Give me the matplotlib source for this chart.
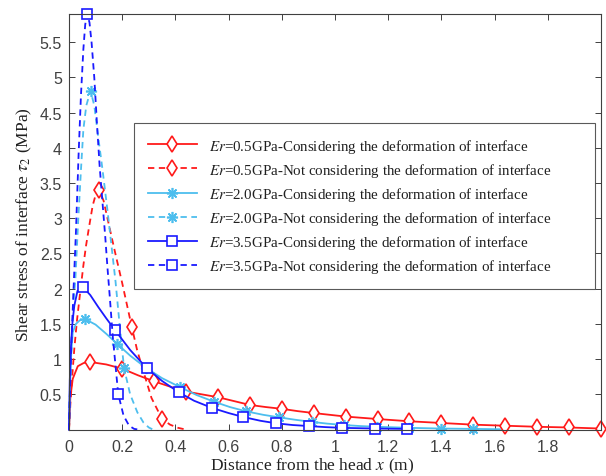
import matplotlib
matplotlib.use("Agg")
import matplotlib.pyplot as plt

plt.rcParams["mathtext.fontset"] = "stix"

# Er = 0.5 GPa, interface deformation considered
r_con_x = [0, 0.005, 0.014, 0.033, 0.055, 0.079, 0.14, 0.2, 0.26, 0.32, 0.38, 0.44, 0.5, 0.56,
           0.62, 0.68, 0.74, 0.80, 0.86, 0.92, 1.04, 1.16, 1.28, 1.40, 1.52, 1.64, 1.76, 1.88, 2.0]
r_con_y = [0, 0.45, 0.72, 0.90, 0.945, 0.96, 0.925, 0.865, 0.77, 0.685, 0.61, 0.54, 0.50, 0.46,
           0.405, 0.35, 0.32, 0.295, 0.262, 0.235, 0.185, 0.15, 0.118, 0.094, 0.07, 0.055, 0.04, 0.03, 0.015]

# Er = 0.5 GPa, interface deformation not considered
r_not_x = [0, 0.005, 0.01, 0.02, 0.03, 0.039, 0.045, 0.054, 0.064, 0.076, 0.089, 0.1, 0.113,
           0.13, 0.151, 0.176, 0.2, 0.222, 0.236, 0.256, 0.277, 0.31, 0.35, 0.38, 0.41, 0.44]
r_not_y = [0, 0.35, 0.65, 1.15, 1.55, 1.85, 2.04, 2.33, 2.61, 2.89, 3.18, 3.33, 3.40,
           3.25, 2.89, 2.47, 2.08, 1.7, 1.46, 1.13, 0.86, 0.45, 0.15, 0.07, 0.025, 0]

# Er = 2.0 GPa, interface deformation considered
c_con_x = [0, 0.004, 0.008, 0.014, 0.026, 0.04, 0.06, 0.1, 0.14, 0.182, 0.23, 0.288, 0.35, 0.419,
           0.48, 0.546, 0.605, 0.665, 0.73, 0.788, 0.85, 0.912, 0.97, 1.034, 1.096, 1.158, 1.28,
           1.398, 1.52, 1.62]
c_con_y = [0, 0.6, 1.05, 1.38, 1.5, 1.55, 1.57, 1.49, 1.36, 1.214, 1.05, 0.88, 0.73, 0.60,
           0.49, 0.395, 0.32, 0.26, 0.21, 0.175, 0.14, 0.11, 0.085, 0.065, 0.05, 0.04, 0.025,
           0.015, 0.01, 0.005]

# Er = 2.0 GPa, interface deformation not considered
c_not_x = [0, 0.004, 0.01, 0.016, 0.024, 0.035, 0.045, 0.054, 0.065, 0.081, 0.095, 0.11, 0.126,
           0.145, 0.163, 0.175, 0.19, 0.207, 0.23, 0.257, 0.28, 0.30, 0.316]
c_not_y = [0, 0.7, 1.3, 1.75, 2.14, 3.0, 3.69, 4.26, 4.6, 4.81, 4.6, 4.15, 3.69,
           3.1, 2.5, 2.1, 1.5, 0.87, 0.5, 0.245, 0.1, 0.03, 0]

# Er = 3.5 GPa, interface deformation considered
b_con_x = [0, 0.003, 0.0075, 0.013, 0.02, 0.032, 0.051, 0.08, 0.11, 0.14, 0.172, 0.23, 0.292,
           0.35, 0.413, 0.47, 0.536, 0.6, 0.656, 0.72, 0.778, 0.84, 0.903, 0.965, 1.027, 1.15,
           1.27, 1.29]
b_con_y = [0, 0.7, 1.19, 1.52, 1.76, 1.97, 2.03, 1.91, 1.74, 1.58, 1.417, 1.13, 0.874,
           0.69, 0.529, 0.41, 0.31, 0.235, 0.178, 0.125, 0.09, 0.065, 0.05, 0.035, 0.025, 0.015,
           0.01, 0.01]

# Er = 3.5 GPa, interface deformation not considered
b_not_x = [0, 0.004, 0.008, 0.016, 0.026, 0.036, 0.045, 0.054, 0.061, 0.068, 0.077, 0.085,
           0.095, 0.105, 0.115, 0.126, 0.136, 0.145, 0.153, 0.165, 0.185, 0.205, 0.226, 0.245, 0.262]
b_not_y = [0, 0.6, 1.1, 1.9, 2.8, 3.9, 4.75, 5.4, 5.75, 5.9, 5.78, 5.49,
           5.0, 4.35, 3.75, 3.22, 2.75, 2.28, 1.9, 1.3, 0.505, 0.2, 0.055, 0.01, 0]

labels = [
    r"$\mathit{Er}$=0.5GPa-Considering the deformation of interface",
    r"$\mathit{Er}$=0.5GPa-Not considering the deformation of interface",
    r"$\mathit{Er}$=2.0GPa-Considering the deformation of interface",
    r"$\mathit{Er}$=2.0GPa-Not considering the deformation of interface",
    r"$\mathit{Er}$=3.5GPa-Considering the deformation of interface",
    r"$\mathit{Er}$=3.5GPa-Not considering the deformation of interface",
]

x_ticks = [0, 0.2, 0.4, 0.6, 0.8, 1.0, 1.2, 1.4, 1.6, 1.8]
x_tick_labels = ["0", "0.2", "0.4", "0.6", "0.8", "1", "1.2", "1.4", "1.6", "1.8"]
y_ticks = [0.5, 1.0, 1.5, 2.0, 2.5, 3.0, 3.5, 4.0, 4.5, 5.0, 5.5]
y_tick_labels = ["0.5", "1", "1.5", "2", "2.5", "3", "3.5", "4", "4.5", "5", "5.5"]

RED = "#ff1a1a"
CYAN = "#4dbeee"
BLUE = "#1a1aff"
DASH = (0, (3.5, 2.5))
ASTERISK = (8, 2, 0)

fig = plt.figure(figsize=(6.06, 4.77), dpi=100)
ax = fig.add_axes([69 / 606, 1 - 430.6 / 477, 532 / 606, 415.6 / 477])

series = [
    (r_con_x, r_con_y, dict(color=RED, ls="-", marker="d", ms=8.5,
                            markevery=[5, 7, 9, 11, 13, 15, 17, 19] + list(range(20, 29)))),
    (r_not_x, r_not_y, dict(color=RED, ls=DASH, marker="d", ms=8.5, markevery=[12, 18, 22])),
    (c_con_x, c_con_y, dict(color=CYAN, ls="-", marker=ASTERISK, ms=8,
                            markevery=[6, 9, 11, 13, 15, 17, 19, 21, 23, 25, 26, 27, 28])),
    (c_not_x, c_not_y, dict(color=CYAN, ls=DASH, marker=ASTERISK, ms=8, markevery=[9, 17])),
    (b_con_x, b_con_y, dict(color=BLUE, ls="-", marker="s", ms=7,
                            markevery=[6, 10, 12, 14, 16, 18, 20, 22, 24, 25, 26])),
    (b_not_x, b_not_y, dict(color=BLUE, ls=DASH, marker="s", ms=7, markevery=[9, 20])),
]

for (xs, ys, st), lab in zip(series, labels):
    face = "white" if st["marker"] in ("d", "s") else st["color"]
    ax.plot(xs, ys, label=lab, lw=1.3, mew=1.2, mfc=face, mec=st["color"],
            clip_on=False, color=st["color"], ls=st["ls"], marker=st["marker"],
            ms=st["ms"], markevery=st["markevery"])

ax.set_xlim(0, 2.0)
ax.set_ylim(0, 5.9)
ax.set_xticks(x_ticks)
ax.set_xticklabels(x_tick_labels)
ax.set_yticks(y_ticks)
ax.set_yticklabels(y_tick_labels)

for lbl in ax.get_xticklabels() + ax.get_yticklabels():
    lbl.set_fontfamily("Liberation Sans")
    lbl.set_fontsize(11.5)
    lbl.set_color("#404040")

ax.tick_params(direction="in", length=4, width=0.7, color="#404040",
               top=True, right=True)
ax.tick_params(axis="x", pad=7)
ax.tick_params(axis="y", pad=5)
for sp in ax.spines.values():
    sp.set_color("#404040")
    sp.set_linewidth(0.8)

ax.set_xlabel(r"Distance from the head $\mathit{x}$ (m)", family="Liberation Serif",
              fontsize=12.5, color="#202020")
ax.xaxis.set_label_coords((312 - 69) / 532, -(466 - 430.6) / 415.6)
ax.xaxis.label.set_va("center")
ax.set_ylabel(r"Shear stress of interface $\tau_2$ (MPa)", family="Liberation Serif",
              fontsize=12.5, color="#202020")
ax.yaxis.set_label_coords(-(69 - 24) / 532, (430.6 - 225) / 415.6)
ax.yaxis.label.set_va("center")

# legend box spans from x=134 to x=595 px, top edge at y=124 px
leg_x0 = (134 - 69) / 532
leg_w = (595 - 134) / 532
leg_top = (430.6 - 124) / 415.6
leg = ax.legend(loc="upper left", bbox_to_anchor=(leg_x0, leg_top - 0.5, leg_w, 0.5),
                mode="expand", prop=dict(family="Liberation Serif", size=10.8),
                frameon=True, fancybox=False, edgecolor="#303030", handlelength=3.33,
                labelspacing=0.41, borderpad=0.9, handletextpad=0.8, borderaxespad=0)
leg.get_frame().set_linewidth(0.8)
for t in leg.get_texts():
    t.set_color("#202020")

fig.savefig("out.png", dpi=100)
